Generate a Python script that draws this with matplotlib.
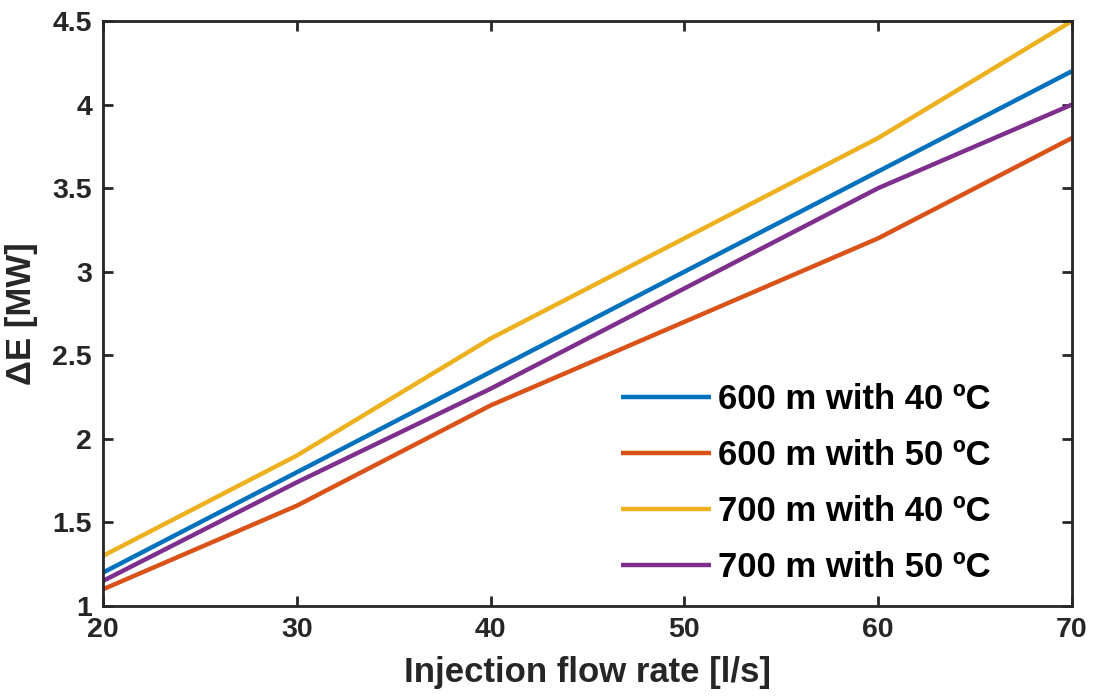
import matplotlib.pyplot as plt

flow = [20, 30, 40, 50, 60, 70]
e_600_40 = [1.2, 1.8, 2.4, 3.0, 3.6, 4.2]
e_600_50 = [1.1, 1.6, 2.2, 2.7, 3.2, 3.8]
e_700_40 = [1.3, 1.9, 2.6, 3.2, 3.8, 4.5]
e_700_50 = [1.15, 1.74, 2.3, 2.9, 3.5, 4.0]
labels = ['600 m with 40 ºC', '600 m with 50 ºC',
          '700 m with 40 ºC', '700 m with 50 ºC']
colors = ['#0072BD', '#D95319', '#EDB120', '#7E2F8E']


def main():
    plt.rcParams['font.family'] = ['Liberation Sans', 'DejaVu Sans']
    plt.rcParams['font.weight'] = 'bold'

    fig = plt.figure(figsize=(10.94, 6.98), dpi=100)
    ax = fig.add_axes([103 / 1094, 92 / 698, 969 / 1094, 585 / 698])

    for ys, lab, c in zip([e_600_40, e_600_50, e_700_40, e_700_50], labels, colors):
        ax.plot(flow, ys, color=c, lw=3.2, label=lab, solid_capstyle='butt')

    ax.set_xlim(20, 70)
    ax.set_ylim(1, 4.5)
    ax.set_xticks([20, 30, 40, 50, 60, 70])
    ax.set_yticks([1, 1.5, 2, 2.5, 3, 3.5, 4, 4.5])
    ax.set_yticklabels(['1', '1.5', '2', '2.5', '3', '3.5', '4', '4.5'])
    ax.tick_params(direction='in', length=7, width=2, top=True, right=True,
                   labelsize=20.5, colors='#262626', pad=8)
    for s in ax.spines.values():
        s.set_linewidth(2)
        s.set_color('#262626')

    ax.set_xlabel('Injection flow rate [l/s]', fontsize=25, fontweight='bold',
                  color='#262626', labelpad=9)
    ax.set_ylabel('ΔE [MW]', fontsize=25, fontweight='bold',
                  color='#262626', labelpad=10)

    ax.legend(loc='lower right', bbox_to_anchor=(0.948, -0.016), frameon=False,
              prop={'size': 25, 'weight': 'bold'}, handlelength=2.6,
              handletextpad=0.2, labelspacing=0.66)

    fig.savefig('out.png', dpi=100)


if __name__ == '__main__':
    main()
